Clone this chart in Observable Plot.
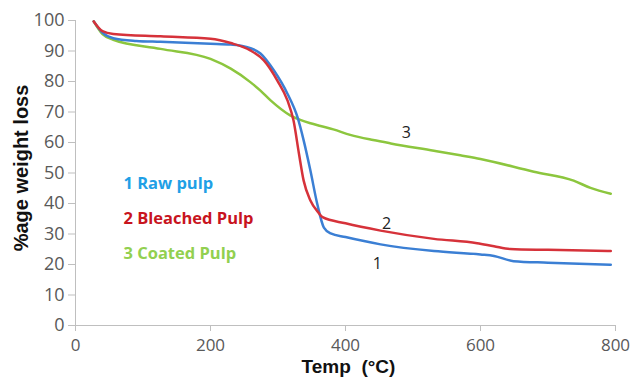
<!DOCTYPE html>
<html>
<head>
<meta charset="utf-8">
<script src="https://cdn.jsdelivr.net/npm/d3@7"></script>
<script src="https://cdn.jsdelivr.net/npm/@observablehq/plot@0.6"></script>
<style>
  html, body { margin: 0; padding: 0; background: #fff; }
</style>
</head>
<body>
<div id="chart"></div>
<script>
// Series: temperature (°C) and % weight remaining
const rawTemp = [27, 40, 56, 90, 126, 200, 230, 250, 274, 294, 314, 329, 338, 348, 358, 368, 378, 400, 452, 531, 600, 620, 649, 700, 793];
const rawVal  = [99.7, 96, 94.2, 93.3, 93, 92.4, 92.1, 91.5, 89.2, 83.6, 76, 68.2, 60.7, 50.8, 40, 32.1, 30.2, 29, 26.6, 24.4, 23.3, 22.8, 21.1, 20.6, 19.9];

const bleachedTemp = [27, 40, 56, 126, 200, 230, 259, 279, 299, 314, 323, 331, 338, 348, 360, 366, 400, 452, 531, 595, 620, 644, 700, 793];
const bleachedVal  = [99.7, 96.5, 95.6, 94.8, 94, 92.6, 90.2, 86.9, 80.3, 73.8, 67.2, 56.4, 47.5, 41, 37, 35.5, 33.5, 31.1, 28.4, 27, 26, 25.1, 24.8, 24.4];

const coatedTemp = [27, 40, 56, 126, 200, 230, 259, 274, 289, 318, 333, 348, 363, 382, 407, 441, 467, 531, 570, 600, 679, 738, 763, 793];
const coatedVal  = [99.7, 95.5, 93.7, 90.7, 87.4, 84.2, 79.8, 77, 73.8, 68.9, 67.4, 66.3, 65.4, 64.3, 62.5, 60.8, 59.7, 57.3, 55.8, 54.6, 50.4, 47.5, 45.1, 43.2];

const xTicks = [0, 200, 400, 600, 800];
const yTicks = [0, 10, 20, 30, 40, 50, 60, 70, 80, 90, 100];

const legendLabels = ["1 Raw pulp", "2 Bleached Pulp", "3 Coated Pulp"];
const legendTemp = [71, 71, 71];
const legendVal = [46.6, 35.1, 23.6];

const curveLabels = ["1", "2", "3"];
const curveLabelTemp = [447, 461, 490];
const curveLabelVal = [20.3, 33.4, 63.3];

const xTitle = "Temp\u00a0 (°C)";
const yTitle = "%age weight loss";

// build tables
const toRows = (xs, ys) => xs.map((x, i) => ({x, y: ys[i]}));
const rawRows = toRows(rawTemp, rawVal);
const bleachedRows = toRows(bleachedTemp, bleachedVal);
const coatedRows = toRows(coatedTemp, coatedVal);
const legendRows = legendLabels.map((t, i) => ({t, x: legendTemp[i], y: legendVal[i], i}));
const curveRows = curveLabels.map((t, i) => ({t, x: curveLabelTemp[i], y: curveLabelVal[i]}));

const lineColors = ["#3b7fd4", "#d6323a", "#8cc63e"];
const legendColors = ["#1fa0e6", "#c8141e", "#92d050"];
const axisGray = "#bfbfbf";

const chart = Plot.plot({
  width: 634,
  height: 377,
  marginLeft: 75,
  marginRight: 19,
  marginTop: 20,
  marginBottom: 52,
  style: {fontFamily: "'Open Sans', sans-serif", fontSize: "18px", color: "#595959", background: "#fff"},
  x: {domain: [0, 800]},
  y: {domain: [0, 100]},
  marks: [
    Plot.ruleY([0], {stroke: axisGray, strokeWidth: 1}),
    Plot.ruleX([0], {stroke: axisGray, strokeWidth: 1}),
    Plot.axisX({ticks: xTicks, tickSize: 6, tickPadding: 7, stroke: axisGray, fill: "#595959", label: null, fontSize: 17}),
    Plot.axisY({ticks: yTicks, tickSize: 7, tickPadding: 4, stroke: axisGray, fill: "#595959", label: null, fontSize: 18}),
    Plot.line(coatedRows, {x: "x", y: "y", stroke: lineColors[2], strokeWidth: 2.5, curve: "monotone-x"}),
    Plot.line(rawRows, {x: "x", y: "y", stroke: lineColors[0], strokeWidth: 2.5, curve: "monotone-x"}),
    Plot.line(bleachedRows, {x: "x", y: "y", stroke: lineColors[1], strokeWidth: 2.5, curve: "monotone-x"}),
    Plot.text(legendRows, {x: "x", y: "y", text: "t", fill: d => legendColors[d.i], textAnchor: "start", fontSize: 16.5, fontWeight: "bold", fontFamily: "'Open Sans', sans-serif"}),
    Plot.text(curveRows, {x: "x", y: "y", text: "t", fill: "#222", fontSize: 16, fontFamily: "'Open Sans', sans-serif"}),
    Plot.text([xTitle], {frameAnchor: "bottom", textAnchor: "middle", lineAnchor: "middle", dx: 3, dy: 41, fill: "#111", fontSize: 19, fontWeight: "bold", fontFamily: "'Liberation Sans', Arial, sans-serif"}),
    Plot.text([yTitle], {frameAnchor: "left", textAnchor: "middle", lineAnchor: "middle", rotate: -90, dx: -54, dy: -5, fill: "#111", fontSize: 20, fontWeight: "bold", fontFamily: "'Liberation Sans', Arial, sans-serif"})
  ]
});
document.getElementById("chart").appendChild(chart);
</script>
</body>
</html>
